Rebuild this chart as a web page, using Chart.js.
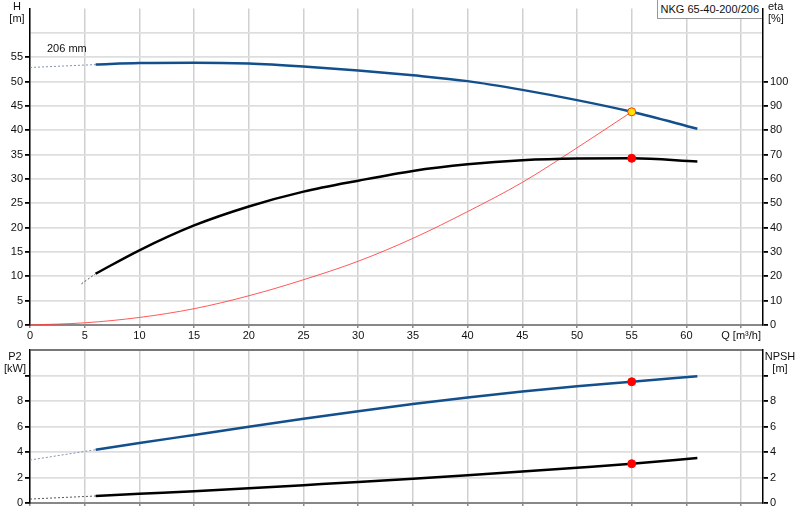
<!DOCTYPE html>
<html lang="en">
<head>
    <meta charset="UTF-8">
    <title>NKG 65-40-200/206</title>
    <style>
        body { margin: 0; background: #fff; font-family: "Liberation Sans", Arial, sans-serif; }
        #page { position: relative; width: 800px; height: 520px; overflow: hidden; }
        .box { position: absolute; left: 0; width: 800px; }
        .lbl { position: absolute; font-size: 11px; line-height: 12px; color: #111; white-space: nowrap; }
        .c { text-align: center; }
        #model { position: absolute; right: 38px; top: 0; height: 18px; padding: 0 3px 0 3px; border: 1px solid #999; border-top: none;
                 border-right: none; background: #fff; font-size: 11px; line-height: 18px; color: #111; white-space: nowrap; }
    </style>
</head>
<body>
<div id="page">
    <div class="box" style="top:0;height:345px;"><canvas id="topChart"></canvas></div>
    <div class="box" style="top:340px;height:180px;"><canvas id="bottomChart"></canvas></div>

    <div class="lbl c" style="left:4px;top:0;width:26px;">H<br>[m]</div>
    <div class="lbl" style="left:768px;top:0;">eta<br>[%]</div>
    <div class="lbl c" style="left:1px;top:350px;width:28px;">P2<br>[kW]</div>
    <div class="lbl c" style="left:764px;top:350px;width:32px;">NPSH<br>[m]</div>
    <div class="lbl" style="left:47px;top:42px;">206 mm</div>
    <div id="model">NKG 65-40-200/206</div>
</div>

<script src="https://cdn.jsdelivr.net/npm/chart.js"></script>
<script>
    // flow axis Q [m3/h]
    const qHeadDash = [0, 3, 6];
    const headDash = [52.9, 53.2, 53.5];
    const qHead = [6, 10, 15, 20, 25, 30, 35, 40, 45, 50, 55, 61];
    const head = [53.5, 53.8, 53.9, 53.7, 53.1, 52.3, 51.3, 50.1, 48.3, 46.2, 43.8, 40.3];

    const qEtaDash = [4.7, 6];
    const etaDash = [16.9, 21.1];
    const qEta = [6, 10, 15, 20, 25, 30, 35, 40, 45, 50, 55, 61];
    const eta = [21.1, 30.7, 40.9, 48.7, 54.8, 59.3, 63.3, 66.0, 67.7, 68.4, 68.5, 67.2];

    const qSystem = [0, 5, 10, 15, 20, 25, 30, 35, 40, 45, 50, 55];
    const systemHead = [0, 0.45, 1.55, 3.35, 6.0, 9.3, 13.1, 17.8, 23.3, 29.3, 36.4, 43.8];

    const qP2Dash = [0, 6];
    const p2Dash = [3.37, 4.18];
    const qP2 = [6, 10, 15, 20, 25, 30, 35, 40, 45, 50, 55, 61];
    const p2 = [4.18, 4.7, 5.34, 5.98, 6.6, 7.2, 7.76, 8.27, 8.74, 9.16, 9.51, 9.95];

    const qNpshDash = [0, 6];
    const npshDash = [0.31, 0.55];
    const qNpsh = [6, 10, 15, 20, 25, 30, 35, 40, 45, 50, 55, 61];
    const npsh = [0.55, 0.72, 0.92, 1.15, 1.4, 1.65, 1.91, 2.18, 2.47, 2.77, 3.08, 3.53];

    // duty point
    const dutyQ = 55;
    const dutyHead = 43.8;
    const dutyEta = 68.5;
    const dutyP2 = 9.51;
    const dutyNpsh = 3.08;

    const qMax = 67;
    const tickFont = { family: '"Liberation Sans", Arial, sans-serif', size: 11 };
    const blue = '#124f8c';

    const pts = (xs, ys) => xs.map((x, i) => ({ x: x, y: ys[i] }));

    function curve(xs, ys, color, width, axis, dash) {
        return {
            data: pts(xs, ys),
            borderColor: color,
            borderWidth: width,
            borderDash: dash || [],
            pointRadius: 0,
            cubicInterpolationMode: 'monotone',
            fill: false,
            yAxisID: axis
        };
    }

    function dot(x, y, fillColor, edgeColor, axis) {
        return {
            data: [{ x: x, y: y }],
            showLine: false,
            pointRadius: 4,
            pointBackgroundColor: fillColor,
            pointBorderColor: edgeColor,
            pointBorderWidth: 1,
            yAxisID: axis
        };
    }

    function xAxis(showLabels, height) {
        return {
            type: 'linear',
            min: 0,
            max: qMax,
            ticks: {
                display: showLabels,
                stepSize: 5,
                includeBounds: false,
                autoSkip: false,
                maxRotation: 0,
                padding: 1,
                color: '#111',
                font: tickFont,
                callback: v => v === 65 ? 'Q [m³/h]' : v
            },
            grid: { color: '#d0d0d0', lineWidth: 1.5, tickLength: 3, tickColor: '#888' },
            border: { color: '#888', width: 2 },
            afterFit: s => { s.height = height; }
        };
    }

    function yAxis(pos, max, step, lastLabel, lastTick, width, drawGrid, topColor) {
        return {
            position: pos,
            min: 0,
            max: max,
            ticks: {
                stepSize: step,
                padding: 2,
                color: '#111',
                font: tickFont,
                callback: v => v <= lastLabel ? v : ''
            },
            grid: {
                drawOnChartArea: drawGrid,
                color: c => (c.tick && c.tick.value === max) ? topColor : '#dedede',
                lineWidth: c => (c.tick && c.tick.value === max) ? 2 : 1.8,
                tickLength: 5,
                tickColor: c => (c.tick && c.tick.value > lastTick) ? 'rgba(0,0,0,0)' : '#000'
            },
            border: { color: '#000', width: 1.5 },
            afterFit: s => { s.width = width; }
        };
    }

    const common = {
        responsive: true,
        maintainAspectRatio: false,
        animation: false,
        plugins: { legend: { display: false }, tooltip: { enabled: false } }
    };

    // first dataset is drawn on top, so the duty points come first
    new Chart(document.getElementById('topChart'), {
        type: 'line',
        data: {
            datasets: [
                dot(dutyQ, dutyHead, '#ffe600', '#ff3300', 'y'),
                dot(dutyQ, dutyEta, '#ff0000', '#ff0000', 'y1'),
                curve(qHead, head, blue, 2.5, 'y'),
                curve(qHeadDash, headDash, '#7f93b5', 1, 'y', [2, 2]),
                curve(qEta, eta, '#000', 2.5, 'y1'),
                curve(qEtaDash, etaDash, '#555', 1, 'y1', [2, 2]),
                curve(qSystem, systemHead, 'rgba(255,60,60,0.85)', 1, 'y')
            ]
        },
        options: Object.assign({}, common, {
            layout: { padding: { top: 0, bottom: 0, left: 0, right: 0 } },
            scales: {
                x: xAxis(true, 20),
                y: yAxis('left', 65, 5, 55, 55, 30, true, 'rgba(0,0,0,0)'),
                y1: yAxis('right', 130, 10, 100, 100, 37, false, 'rgba(0,0,0,0)')
            }
        })
    });

    new Chart(document.getElementById('bottomChart'), {
        type: 'line',
        data: {
            datasets: [
                dot(dutyQ, dutyP2, '#ff0000', '#ff0000', 'y'),
                dot(dutyQ, dutyNpsh, '#ff0000', '#ff0000', 'y1'),
                curve(qP2, p2, blue, 2.5, 'y'),
                curve(qP2Dash, p2Dash, '#7f93b5', 1, 'y', [2, 2]),
                curve(qNpsh, npsh, '#000', 2.5, 'y1'),
                curve(qNpshDash, npshDash, '#555', 1, 'y1', [2, 2])
            ]
        },
        options: Object.assign({}, common, {
            layout: { padding: { top: 10, bottom: 0, left: 0, right: 0 } },
            scales: {
                x: xAxis(false, 17),
                y: yAxis('left', 12, 2, 8, 10, 30, true, '#777'),
                y1: yAxis('right', 12, 2, 8, 10, 37, false, '#777')
            }
        })
    });
</script>
</body>
</html>
